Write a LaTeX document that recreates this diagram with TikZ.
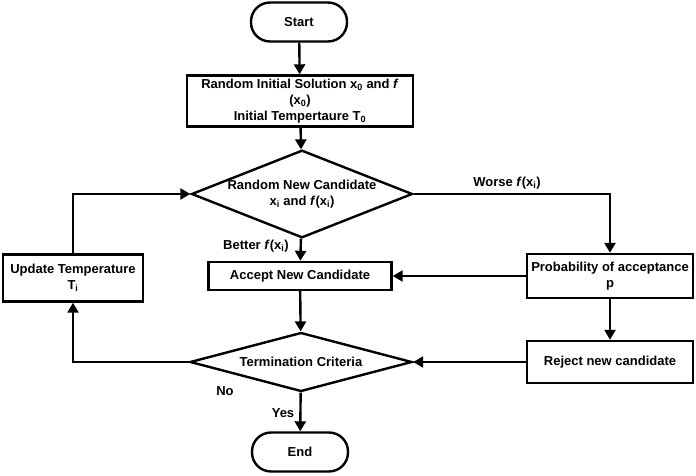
\documentclass[tikz,border=0pt]{standalone}
\usepackage{fontspec}
\setmainfont{Liberation Sans}
\usetikzlibrary{shapes.geometric}
\usetikzlibrary{positioning}
\usetikzlibrary{arrows.meta}

\begin{document}
\begin{tikzpicture}[x=1pt, y=-1pt, font=\bfseries\fontsize{13}{16}\selectfont]
    \tikzstyle{terminal} = [draw=black, line width=2.4pt, rounded corners=19pt, minimum width=96pt, minimum height=39pt];
    \tikzstyle{process} = [draw=black, line width=2.4pt, rectangle, align=center, inner sep=2pt];
    \tikzstyle{decision} = [draw=black, line width=2.4pt, diamond, align=center, inner sep=0pt];
    \tikzstyle{pointer} = [line width=2.4pt, -{Triangle[length=10pt, width=11pt]}];

    \useasboundingbox (0, 0) rectangle (696, 476);

    \node[terminal] (start) at (299, 22) {Start};
    \node[process, minimum width=226pt, minimum height=51pt] (init) at (300, 101)
        {Random Initial Solution x\textsubscript{0} and \textit{f}\\(x\textsubscript{0})\\Initial Tempertaure T\textsubscript{0}};
    \node[decision, shape aspect=2.5, minimum width=221pt, minimum height=85pt] (cand) at (302, 194)
        {Random New Candidate\\x\textsubscript{i} and \textit{f}(x\textsubscript{i})};
    \node[process, minimum width=183pt, minimum height=28pt] (accept) at (300, 276) {Accept New Candidate};
    \node[decision, shape aspect=3.7, minimum width=222pt, minimum height=59pt] (term) at (301, 362) {Termination Criteria};
    \node[terminal] (end) at (300, 452) {End};

    \node[process, minimum width=140pt, minimum height=47pt] (update) at (73, 278)
        {Update Temperature\\T\textsubscript{i}};
    \node[process, minimum width=166pt, minimum height=44pt] (prob) at (610, 276)
        {Probability of acceptance\\p};
    \node[process, minimum width=166pt, minimum height=42pt] (reject) at (610, 362) {Reject new candidate};

    \node (lbl-better) at (256, 246) {Better \textit{f}(x\textsubscript{i})};
    \node (lbl-worse)  at (507, 183) {Worse \textit{f}(x\textsubscript{i})};
    \node (lbl-no)     at (225, 391) {No};
    \node (lbl-yes)    at (283, 413) {Yes};

    \draw [pointer] (start) -- (init);
    \draw [pointer] (init) -- (cand);
    \draw [pointer] (cand) -- (accept);
    \draw [pointer] (accept) -- (term);
    \draw [pointer] (term) -- (end);
    \draw [pointer] (term.west) -| (update.south);
    \draw [pointer] (update.north) |- (cand.west);
    \draw [pointer] (cand.east) -| (prob.north);
    \draw [pointer] (prob.west) -- (accept.east);
    \draw [pointer] (prob) -- (reject);
    \draw [pointer] (reject.west) -- (term.east);
\end{tikzpicture}
\end{document}
